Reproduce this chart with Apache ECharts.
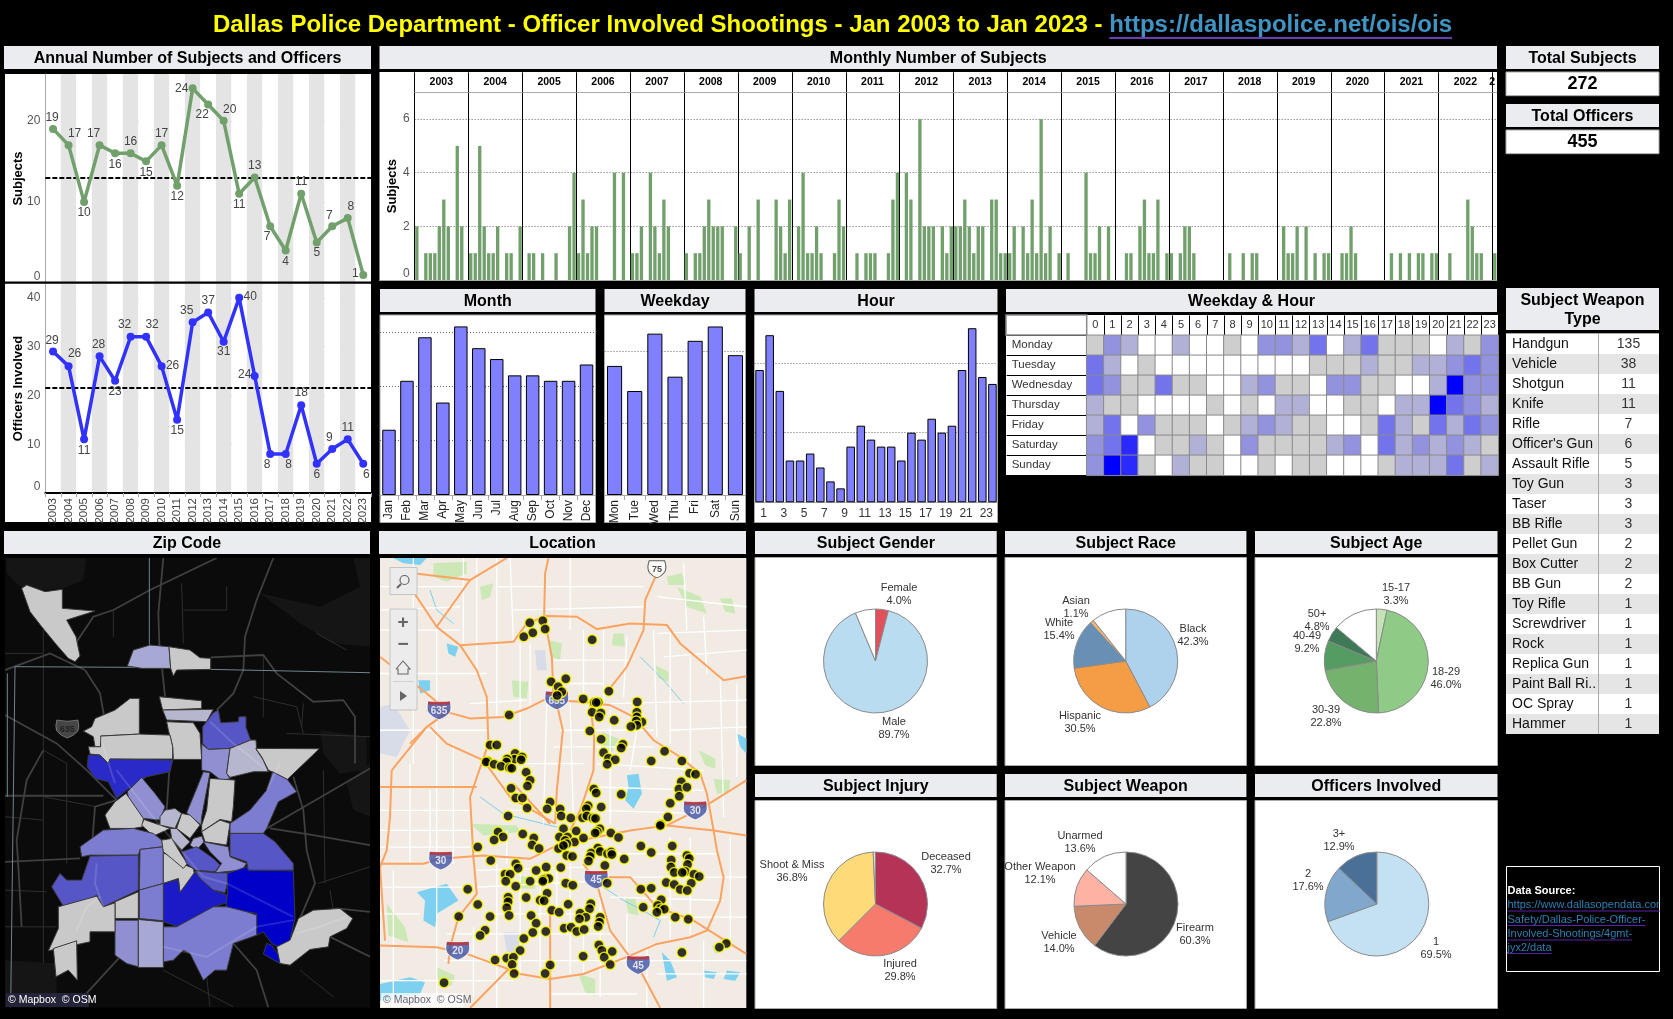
<!DOCTYPE html>
<html>
<head>
<meta charset="utf-8">
<title>Dallas Police Department - Officer Involved Shootings</title>
<script src="https://cdn.jsdelivr.net/npm/echarts@6/dist/echarts.min.js"></script>
<style>
  html, body { margin: 0; padding: 0; background: #000; }
  #main { width: 1673px; height: 1019px; }
</style>
</head>
<body>
<div id="main"></div>
<script>
// ---------- data ----------
const years = ['2003','2004','2005','2006','2007','2008','2009','2010','2011','2012','2013','2014','2015','2016','2017','2018','2019','2020','2021','2022','2023'];
const annualSubjects = [19,17,10,17,16,16,15,17,12,24,22,20,11,13,7,4,11,5,7,8,1];
const annualOfficers = [29,26,11,28,23,32,32,26,15,35,37,31,40,24,8,8,18,6,9,11,6];
const subjectAverage = 12.95;
const officerAverage = 21.67;

const monthlySubjects = [
  2,0,1,1,1,2,3,2,0,5,2,0,
  1,1,5,2,1,1,2,0,1,1,0,2,
  0,1,1,0,1,0,0,1,0,0,2,4,
  1,3,1,2,2,0,0,0,4,0,4,0,
  1,1,2,0,4,2,1,3,2,0,0,0,
  1,0,1,1,2,3,2,2,2,0,0,2,
  1,0,2,0,3,0,0,0,3,2,1,3,
  0,2,4,1,1,2,1,0,0,1,3,2,
  0,0,1,0,1,1,1,0,0,1,3,4,
  0,4,3,0,6,2,2,2,0,2,1,2,
  2,2,3,2,1,2,2,0,3,3,1,1,
  1,2,0,2,1,3,1,6,1,2,0,1,
  0,1,0,0,0,4,1,1,2,0,2,0,
  0,0,1,1,0,2,3,1,1,3,0,1,
  1,0,1,2,2,1,0,0,0,0,0,0,
  0,1,0,0,1,0,1,1,0,0,0,0,
  0,2,1,1,2,0,2,0,1,0,1,1,
  0,0,1,1,2,1,0,0,0,0,0,0,
  0,1,0,1,0,1,0,1,1,0,1,1,
  0,0,1,0,0,0,3,2,1,1,0,0,
  1
];

const monthNames = ['Jan','Feb','Mar','Apr','May','Jun','Jul','Aug','Sep','Oct','Nov','Dec'];
const monthCounts = [12,21,29,17,31,27,25,22,22,21,21,24];
const weekdayShort = ['Mon','Tue','Wed','Thu','Fri','Sat','Sun'];
const weekdayCounts = [36,29,45,33,43,47,39];
const hourNames = ['1','2','3','4','5','6','7','8','9','10','11','12','13','14','15','16','17','18','19','20','21','22','23','24'];
const hourCounts = [19,24,16,6,6,7,5,3,2,8,11,9,8,8,6,10,9,12,10,11,19,25,18,17];

const weekdayLong = ['Monday','Tuesday','Wednesday','Thursday','Friday','Saturday','Sunday'];
const heatHours = ['0','1','2','3','4','5','6','7','8','9','10','11','12','13','14','15','16','17','18','19','20','21','22','23'];
const heatMonday    = [1,3,2,0,0,2,0,0,1,0,3,3,2,4,0,2,4,1,1,1,0,2,1,3];
const heatTuesday   = [4,2,0,1,0,0,0,0,0,0,0,0,0,1,1,1,2,1,1,2,2,3,4,3];
const heatWednesday = [4,3,1,1,4,1,1,0,0,2,3,1,1,0,3,3,1,1,0,0,2,7,3,3];
const heatThursday  = [2,1,1,0,0,0,0,1,0,1,0,2,2,0,0,1,1,0,2,2,7,4,3,2];
const heatFriday    = [2,4,0,3,1,1,1,0,1,2,3,2,1,1,0,0,1,4,2,1,4,2,4,3];
const heatSaturday  = [3,4,6,0,1,1,2,1,0,3,1,1,1,1,2,3,0,4,2,3,2,3,2,1];
const heatSunday    = [3,7,6,1,0,2,1,1,0,0,1,0,1,1,0,0,0,1,2,2,2,4,1,2];

const genderNames = ['Female','Male',''];
const genderValues = [4.0,89.7,6.3];
const raceNames = ['Black','Hispanic','White','Asian',''];
const raceValues = [42.3,30.5,15.4,1.1,10.7];
const ageNames = ['15-17','18-29','30-39','40-49','50+',''];
const ageValues = [3.3,46.0,22.8,9.2,4.8,13.9];
const injuryNames = ['Deceased','Injured','Shoot & Miss',''];
const injuryValues = [32.7,29.8,36.8,0.7];
const weaponNames = ['Firearm','Vehicle','Other Weapon','Unarmed'];
const weaponValues = [60.3,14.0,12.1,13.6];
const officerNames = ['1','2','3+'];
const officerValues = [69.5,17.6,12.9];

const weaponTypes = ['Handgun','Vehicle','Shotgun','Knife','Rifle',"Officer's Gun",'Assault Rifle','Toy Gun','Taser','BB Rifle','Pellet Gun','Box Cutter','BB Gun','Toy Rifle','Screwdriver','Rock','Replica Gun','Paint Ball Ri..','OC Spray','Hammer'];
const weaponCounts = [135,38,11,11,7,6,5,3,3,3,2,2,2,1,1,1,1,1,1,1];

// incident locations, in map units of the Location panel
const incidentPoints = [
  [479,278],[518,272],[525,297],[488,308],[461,320],[666,329],[543,455],[587,446],[564,470],[575,485],[561,496],[716,483],[639,506],[672,517],[684,516],[678,517],[666,546],[692,548],[687,560],[732,570],[801,515],[800,546],[800,560],[815,575],[798,572],[800,585],[782,589],[659,602],[693,627],[417,554],
  [360,644],[380,644],[758,642],[753,653],[700,667],[883,663],[843,692],[935,692],[435,670],[433,687],[456,680],[453,688],[411,686],[409,695],[353,693],[348,695],[372,702],[393,708],[418,712],[425,714],[715,684],[735,688],[711,702],[468,726],[958,729],[976,732],[480,750],[472,767],[933,754],[926,776],[950,771],[423,774],[671,776],[678,788],[753,792],[927,798],[437,803],[457,803],[900,819],[540,815],[531,836],[471,833],[654,826],[693,830],[648,835],[570,836],[573,857],[414,857],[602,863],[637,862],[650,857],[668,863],[676,864],[893,860],[872,882],[870,885],
  [580,895],[689,895],[681,903],[675,908],[618,902],[722,908],[745,921],[384,905],[399,920],[372,929],[458,911],[491,923],[486,944],[507,954],[323,950],[568,920],[592,920],[585,930],[613,935],[640,923],[575,950],[590,940],[565,954],[580,945],[812,947],[906,947],[843,966],[683,953],[663,968],[690,963],[712,970],[723,965],[725,972],[660,978],[655,992],[590,975],[607,978],[762,986],[950,975],[957,984],[903,989],[362,990],[437,1000],[444,1013],[952,1002],[528,1010],[572,1011],[704,1005],[902,1010],[498,1020],[405,1031],[420,1031],[945,1023],[912,1026],[936,1026],[971,1031],[987,1038],
  [527,1044],[536,1044],[519,1048],[407,1052],[480,1052],[518,1052],[437,1067],[587,1058],[608,1064],[711,1058],[888,1056],[912,1062],[963,1058],[293,1076],[812,1076],[843,1073],[930,1077],[951,1080],[531,1088],[468,1101],[414,1100],[414,1114],[510,1109],[522,1111],[323,1122],[594,1121],[873,1108],[662,1120],[658,1135],[410,1132],[819,1130],[862,1125],[870,1135],[882,1136],[860,1145],[545,1139],[567,1145],[630,1148],[360,1158],[483,1155],[417,1155],[266,1158],[647,1160],[628,1165],[915,1160],[954,1166],[690,1160],[498,1178],[688,1175],[684,1188],[345,1199],[330,1215],[582,1193],[603,1190],[620,1203],[642,1197],[527,1203],[488,1206],[461,1224],[686,1243],[695,1260],[1068,1239],[1047,1250],[726,1263],[935,1266],[450,1260],[639,1277],[702,1280],[410,1283],[430,1280],[375,1288],[426,1302],[540,1303],[720,1302],[525,1329],[432,1329],[222,1356]
];

// zip code areas: outlines in map units and a shooting level for each one
const zipOutlines = [
  [[65,175],[80,165],[135,185],[187,178],[187,235],[285,243],[200,270],[228,320],[240,378],[225,395],[205,385],[170,345],[125,290],[90,245]],
  [[382,408],[400,360],[450,345],[507,350],[512,415],[425,415]],
  [[507,350],[570,360],[600,383],[632,385],[632,418],[530,420],[520,438],[512,415]],
  [[478,500],[605,512],[605,535],[488,540]],
  [[488,540],[640,538],[620,575],[500,570]],
  [[500,575],[580,578],[600,610],[605,688],[520,688],[518,650],[505,600]],
  [[640,548],[655,540],[662,578],[715,575],[717,560],[738,560],[738,592],[752,630],[690,655],[625,658],[608,640],[608,590]],
  [[605,642],[625,658],[690,655],[680,730],[690,745],[665,752],[630,725],[605,720]],
  [[690,655],[752,630],[768,630],[770,660],[790,690],[805,725],[760,725],[690,742],[680,730]],
  [[767,655],[958,656],[862,748],[805,720],[785,680]],
  [[818,725],[862,748],[890,785],[835,815],[800,895],[790,910],[690,910],[690,880],[750,840],[800,780]],
  [[250,603],[275,590],[285,565],[345,540],[390,505],[418,505],[418,612],[302,618],[302,650],[285,650],[280,620]],
  [[302,618],[418,612],[510,615],[518,650],[518,687],[330,687],[325,700],[300,675],[270,672],[265,650],[302,650]],
  [[265,675],[298,675],[325,700],[330,687],[518,690],[510,725],[440,740],[380,780],[350,805],[325,755],[285,745],[262,710]],
  [[425,742],[465,790],[495,830],[480,870],[430,865],[390,830],[382,785]],
  [[378,790],[430,865],[428,890],[400,895],[330,895],[315,855],[345,815]],
  [[630,728],[605,860],[603,885],[560,848],[590,775],[610,725]],
  [[630,745],[705,750],[700,830],[695,875],[660,868],[605,905],[605,885],[620,840]],
  [[495,840],[525,835],[545,850],[525,895],[480,885],[480,860]],
  [[545,850],[570,855],[600,885],[570,925],[530,895]],
  [[425,885],[432,868],[480,885],[510,895],[460,918],[430,890]],
  [[660,870],[690,880],[680,945],[615,935],[605,905]],
  [[510,895],[530,895],[570,935],[545,960],[515,925]],
  [[580,925],[605,918],[612,935],[590,960],[570,945]],
  [[310,900],[400,895],[460,910],[485,930],[490,950],[420,958],[415,975],[270,975],[245,980],[240,950]],
  [[270,978],[415,975],[415,1080],[310,1130],[290,1095],[245,1125],[190,1128],[155,1070],[180,1030],[200,1050],[245,1050]],
  [[420,958],[490,950],[490,1060],[418,1080]],
  [[490,968],[515,980],[545,1000],[580,1015],[585,1040],[540,1087],[535,1045],[490,1060]],
  [[485,930],[515,925],[545,975],[562,1000],[550,1015],[515,985],[490,965]],
  [[545,965],[590,950],[640,985],[660,1005],[645,1025],[585,1020],[560,1000]],
  [[610,935],[685,950],[690,980],[740,1000],[725,1020],[645,1028],[665,1000],[630,965]],
  [[490,1060],[535,1048],[540,1087],[585,1025],[600,1045],[640,1080],[682,1095],[680,1118],[640,1130],[630,1150],[530,1188],[490,1175]],
  [[585,1022],[645,1028],[690,1028],[675,1088],[640,1080],[600,1045]],
  [[682,1030],[740,1010],[745,1020],[880,1022],[885,1165],[870,1230],[835,1250],[815,1240],[790,1205],[770,1215],[770,1150],[740,1145],[678,1130],[682,1095]],
  [[690,910],[790,910],[825,935],[880,1000],[880,1020],[745,1020],[740,995],[690,978]],
  [[800,1240],[815,1245],[843,1285],[840,1300],[790,1272]],
  [[895,1165],[940,1140],[1020,1135],[1058,1165],[1040,1195],[990,1220],[985,1250],[930,1258],[870,1305],[840,1300],[830,1250],[870,1230]],
  [[490,1190],[530,1190],[640,1130],[680,1130],[740,1145],[770,1155],[770,1215],[700,1240],[680,1320],[645,1320],[610,1350],[570,1270],[550,1260],[520,1290],[490,1295]],
  [[345,1170],[415,1170],[415,1310],[380,1300],[345,1275]],
  [[415,1168],[490,1175],[490,1312],[415,1312]],
  [[418,1080],[490,1060],[490,1172],[418,1165]],
  [[345,1115],[415,1085],[415,1165],[345,1165]],
  [[175,1130],[290,1098],[310,1130],[345,1118],[345,1205],[270,1205],[270,1235],[145,1262],[175,1195]],
  [[160,1255],[230,1232],[232,1350],[205,1320],[168,1340]]
];
const zipLevels = [1,3,1,1,2,1,6,4,2,1,5,1,1,7,4,1,4,1,2,1,1,1,2,3,5,6,5,1,1,6,4,8,6,9,6,9,1,5,4,3,5,1,1,1];

// dark base map behind the zip areas
const zipTerrain = [
  [[20,84],[260,84],[250,150],[190,175],[130,180],[60,170],[20,130]],
  [[780,190],[900,280],[1000,340],[1110,350],[1110,84],[1060,84],[1080,170],[960,230]],
  [[960,600],[1100,620],[1100,720],[1020,730],[970,670]],
  [[15,1290],[170,1300],[170,1400],[15,1432]],
  [[1040,760],[1110,700],[1110,860],[1060,840]]
];
const zipRoads = [
  [[490,84],[475,250],[478,340],[490,450],[495,500]],
  [[650,84],[450,180],[340,240],[280,260],[220,350]],
  [[820,84],[770,210],[735,320],[730,420],[700,490],[650,540]],
  [[15,555],[170,640],[260,720],[350,810]],
  [[255,420],[300,490],[320,600]],
  [[15,797],[310,797]],
  [[15,995],[240,985]],
  [[800,895],[1110,715]],
  [[810,895],[940,915],[1110,945]],
  [[880,740],[910,840],[920,960],[945,1060],[900,1165]],
  [[900,1165],[1010,1135],[1110,1145]],
  [[980,1215],[1110,1280]],
  [[632,382],[790,375],[830,430],[940,515],[1030,510],[1065,560],[1065,700]],
  [[15,420],[150,370],[255,420]],
  [[700,1240],[770,1320],[805,1432]],
  [[360,1280],[250,1400]],
  [[65,1190],[55,1010],[50,930],[80,750],[130,660]],
  [[510,690],[500,840]],
  [[350,810],[285,830],[275,960]]
];
const zipThinRoads = [
  [[200,1000],[200,700]],[[130,300],[130,1300]],[[790,380],[790,560]],[[860,610],[1110,620]],[[970,720],[975,1060]],
  [[910,520],[905,590]],[[15,860],[130,870]],[[550,240],[680,240]],[[545,160],[550,340]],[[680,170],[680,240]],
  [[490,1320],[700,1430]],[[900,1320],[1000,1400]],[[950,310],[1040,360]],[[15,1080],[140,1085]],
  [[15,370],[130,370]],[[340,240],[340,320]],[[760,500],[890,530]],[[890,530],[910,610]],[[130,800],[290,830]],
  [[200,700],[130,660]],[[15,1190],[170,1190]],[[955,1060],[1110,1010]],[[1000,1140],[990,1080]],[[620,1340],[630,1430]]
];
const zipOverlayRoads = [
  [[300,620],[345,760]],
  [[290,1000],[285,1060],[310,1130]],
  [[230,1200],[260,1130],[300,1100]],
  [[490,1250],[620,1280],[770,1190],[880,1170]],
  [[630,575],[700,640],[800,720]],
  [[350,720],[450,850],[560,980],[610,1040],[680,1060],[880,1160]],
  [[840,700],[800,780]],
  [[890,1210],[960,1190],[1040,1160]]
];
const zipCityLines = [
  [[448,84],[448,345]],
  [[45,410],[420,412]],
  [[630,418],[1110,428]],
  [[45,410],[32,1432]],
  [[22,430],[22,800]]
];

// light base map behind the location points
const locWater = [
  [[770,735],[805,730],[815,790],[790,835],[765,810],[775,770]],
  [[140,1085],[230,1060],[265,1110],[200,1150],[195,1190],[160,1170],[165,1110]],
  [[30,1360],[120,1340],[165,1355],[150,1390],[30,1410]],
  [[70,84],[170,84],[150,105],[100,100]],
  [[145,450],[180,450],[180,480],[150,490]],
  [[1100,610],[1128,625],[1128,670],[1110,650]],
  [[230,340],[265,350],[255,380],[235,370]],
  [[875,1265],[900,1290],[920,1340],[890,1350]],
  [[1000,1320],[1040,1325],[1030,1345],[1005,1340]],
  [[1070,1320],[1110,1325],[1095,1350],[1060,1345]]
];
const locParks = [
  [[190,100],[290,95],[290,130],[230,155],[190,140]],
  [[330,170],[370,160],[360,200],[335,210]],
  [[535,330],[575,340],[570,390],[540,380]],
  [[920,170],[990,200],[1010,250],[950,230]],
  [[730,310],[760,310],[765,350],[725,345]],
  [[425,450],[475,455],[470,505],[430,500]],
  [[300,880],[440,885],[450,905],[340,915]],
  [[1030,745],[1080,750],[1075,785],[1040,790]],
  [[985,660],[1035,685],[1035,715],[1005,705]],
  [[890,140],[935,130],[945,165],[895,165]],
  [[1050,205],[1085,205],[1095,250],[1065,245]],
  [[695,605],[745,625],[725,665],[700,650]],
  [[855,405],[895,425],[895,455],[865,445]],
  [[50,1120],[105,1190],[115,1235],[55,1215]],
  [[200,1310],[255,1335],[245,1365],[205,1365]],
  [[625,1330],[675,1345],[675,1395],[645,1385]],
  [[1025,1245],[1055,1245],[1055,1265],[1035,1268]],
  [[445,1035],[495,1045],[495,1075],[455,1075]],
  [[765,1105],[795,1105],[805,1155],[775,1148]]
];
const locAirports = [
  [[30,530],[70,520],[120,600],[80,680],[30,670]],
  [[495,360],[525,360],[530,420],[500,420]],
  [[400,1205],[450,1205],[450,1265],[410,1265]]
];
const locStreets = [
  [[130,84],[130,700]],[[200,300],[200,1400]],[[280,84],[280,340]],[[380,84],[380,560]],[[450,340],[450,660]],[[600,84],[600,300]],[[640,300],[640,520]],[[700,300],[700,520]],[[770,320],[760,500]],[[850,300],[860,620]],[[900,300],[900,640]],[[960,380],[960,700]],[[1050,440],[1060,860]],
  [[120,700],[120,1000]],[[180,780],[180,1000]],[[380,1000],[380,1432]],[[450,1000],[450,1330]],[[510,1020],[510,1340]],[[600,1000],[600,1330]],[[640,1150],[640,1330]],[[770,1150],[770,1290]],[[900,920],[900,1230]],[[960,920],[960,1210]],[[1080,920],[1080,1240]],
  [[30,170],[280,170]],[[380,170],[820,170]],[[860,200],[1128,230]],[[30,300],[270,300]],[[550,390],[780,390]],[[880,380],[1128,360]],[[30,430],[350,430]],[[570,460],[700,460]],[[30,600],[360,600]],[[570,600],[850,600]],[[900,600],[1128,590]],
  [[350,700],[640,700]],[[680,700],[1000,720]],[[30,840],[300,840]],[[420,840],[560,840]],[[680,840],[1000,850]],[[30,1070],[310,1070]],[[320,1070],[700,1050]],[[780,1040],[1128,1040]],[[30,1150],[150,1150]],[[360,1150],[710,1150]],[[850,1160],[1128,1160]],[[30,1350],[430,1350]],[[540,1390],[800,1390]],[[860,1330],[1128,1330]],
  [[320,84],[320,420]],[[420,84],[430,330]],[[480,340],[480,530]],[[530,520],[520,880]],[[600,520],[610,880]],[[720,540],[720,880]],[[800,600],[780,720]],[[940,100],[950,300]],[[1000,260],[1010,430]],[[1100,460],[1100,740]],
  [[250,640],[250,1000]],[[410,900],[410,1000]],[[560,1000],[560,1140]],[[690,1100],[690,1400]],[[830,1250],[830,1430]],[[1000,1230],[1000,1430]],[[70,1020],[70,1430]],[[310,1190],[310,1400]],
  [[30,240],[270,230]],[[430,240],[820,230]],[[860,310],[1128,300]],[[550,650],[850,650]],[[300,520],[470,510]],[[720,520],[1128,510]],[[30,900],[300,900]],[[680,770],[1000,780]],[[30,950],[300,950]],[[720,970],[1040,970]],[[320,1020],[640,1010]],[[720,1100],[1060,1110]],[[230,1210],[720,1210]],[[220,1290],[1128,1290]]
];
const locHighways = [
  [[90,125],[200,290],[270,345],[320,420],[350,500],[355,640],[300,800],[310,980],[320,1090],[265,1160],[240,1250],[235,1300]],
  [[170,540],[240,548],[300,565],[400,560],[470,535],[530,505],[560,510],[640,515],[720,525],[790,560],[850,630],[930,680],[990,730],[1010,790],[1030,900],[1040,960],[1060,1040],[1050,1110],[1010,1200],[960,1220],[860,1240],[780,1275],[640,1330],[540,1345],[450,1330],[400,1310],[290,1270],[200,1250],[30,1245]],
  [[270,345],[430,335],[470,280],[530,258],[620,260],[680,297],[780,280],[890,285],[930,340],[1060,450],[1128,438]],
  [[860,130],[825,210],[820,300],[770,410],[715,480]],
  [[535,84],[525,130],[522,258],[545,380],[550,490]],
  [[200,290],[300,150],[410,84]],
  [[560,520],[578,600],[560,780],[555,880]],
  [[660,520],[672,620],[670,720],[630,840],[600,900]],
  [[30,1000],[160,1000],[210,985],[340,975],[480,985],[560,945],[680,920],[780,900],[890,885],[1000,830],[1128,750]],
  [[890,885],[1030,900],[1128,915]],
  [[640,1000],[680,1060],[720,1200],[780,1280],[800,1300],[870,1432]],
  [[540,1145],[540,1432]],
  [[30,770],[320,770]],
  [[120,640],[170,590],[240,540]],
  [[180,590],[230,640],[340,690],[420,800],[555,880]],
  [[65,720],[60,860],[50,960],[30,1010],[45,1230]],
  [[240,540],[170,590],[65,720]],
  [[970,1170],[1128,1270]],
  [[300,1432],[430,1300]],
  [[700,1040],[780,1040],[860,1130],[970,1170]],
  [[30,380],[170,490],[230,540]],
  [[300,150],[130,130]],
  [[430,760],[540,880]]
];
const locRivers = [
  [[810,380],[880,450],[940,520]],
  [[700,1070],[760,1110],[800,1130],[870,1170],[850,1220]],
  [[180,180],[200,240],[250,280]],
  [[330,800],[400,850],[560,890]]
];
const interstates = [[207,540,'635'],[560,510,'635'],[975,840,'30'],[212,990,'30'],[263,1260,'20'],[678,1047,'45'],[804,1303,'45']];
const zipShield = [[202,597,'635']];

// placement of text that follows the marks, in pixels
const subjectLabelOffsets = [[-1,-11],[6,-11],[0,11],[-6,-11],[0,11],[0,-12],[0,11],[0,-11],[0,11],[-11,0],[-6,10],[6,-11],[0,11],[0,-12],[-3,10],[0,11],[0,-12],[0,10],[-3,-11],[3,-11],[-8,-1]];
const officerLabelOffsets = [[-1,-11],[6,-12],[0,11],[-1,-12],[0,11],[-6,-12],[6,-12],[11,0],[0,11],[-6,-12],[0,-12],[0,10],[11,-1],[-10,-1],[-3,11],[3,11],[0,-12],[0,11],[-3,-11],[0,-12],[3,11]];
const genderLabels = [[899,594],[894,728],null];
const raceLabels = [[1193,635],[1080,722],[1059,629],[1076,607],null];
const ageLabels = [[1396,594],[1446,678],[1326,716],[1307,642],[1317,620],null];
const injuryLabels = [[946,863],[900,970],[792,871],null];
const weaponLabels = [[1195,934],[1059,942],[1040,873],[1080,842]];
const officerLabels = [[1436,948],[1308,880],[1339,840]];

// ---------- helpers ----------
const FONT = '"Liberation Sans", Arial, sans-serif';
const GREEN = '#72a06c';
const BLUE = '#3232ff';
const BAR_BLUE = '#8080ff';
const DOTTED = { color: '#666', type: [1, 2] };
const HEAT_COLORS = ['#ffffff','#cecece','#b1b1d8','#9292de','#7373ec','#5050f4','#2a2aff','#0000ff'];
const ZIP_COLORS = ['#000','#c9c9c9','#b6b6cf','#a8a8d4','#8f8fd2','#7c7cd0','#5656c6','#2a2ac8','#1a1ac6','#0000c8'];

const measure = document.createElement('canvas').getContext('2d');
function textWidth(text, font) {
  measure.font = font;
  return measure.measureText(text).width;
}

function panel(x, y, w, h, stroke) {
  return { type: 'rect', z: -5, shape: { x, y, width: w, height: h },
    style: { fill: '#fff', stroke: stroke || null, lineWidth: 1 } };
}
function titleBar(text, x, y, w, h) {
  return [
    { type: 'rect', z: -5, shape: { x, y, width: w, height: h }, style: { fill: '#ebecf0' } },
    { type: 'text', z: 50, x: x + w / 2, y: y + h / 2 + 1,
      style: { text, fill: '#000', font: 'bold 16px ' + FONT, align: 'center', verticalAlign: 'middle', lineHeight: 19 } }
  ];
}
function plainText(text, x, y, fill, font, align) {
  return { type: 'text', z: 60, x, y, style: { text, fill, font: font + ' ' + FONT, align: align || 'left', verticalAlign: 'middle' } };
}
function underlined(text, x, y, fill, lineFill, font) {
  const w = textWidth(text, font + ' ' + FONT);
  const size = parseFloat(font.replace('bold ', ''));
  return [
    plainText(text, x, y, fill, font),
    { type: 'rect', z: 60, shape: { x, y: y + size * 0.5, width: w, height: size > 16 ? 2 : 1 }, style: { fill: lineFill } }
  ];
}

// hidden axes so the map shapes and points go through a real scale
function mapAxes(gridIndex, xRange, yRange) {
  return {
    x: { type: 'value', gridIndex, show: false, min: xRange[0], max: xRange[1] },
    y: { type: 'value', gridIndex, show: false, min: yRange[0], max: yRange[1], inverse: true }
  };
}
function shapeSeries(kind, axis, shapes, styleOf, z) {
  return {
    type: 'custom', silent: true, clip: true, z: z || 2,
    xAxisIndex: axis, yAxisIndex: axis,
    encode: { x: 0, y: 1 },
    data: shapes.map(s => s[0]),
    renderItem: (params, api) => ({
      type: kind,
      shape: { points: shapes[params.dataIndex].map(p => api.coord(p)) },
      style: styleOf(params.dataIndex)
    })
  };
}
function pieSeries(names, values, colors, center, placement) {
  return {
    type: 'pie', silent: true, center, radius: 52, startAngle: 90, avoidLabelOverlap: false,
    itemStyle: { borderColor: '#8a8a8a', borderWidth: 1 },
    label: {
      show: true, position: 'outside', color: '#333', fontFamily: FONT, fontSize: 11, lineHeight: 13,
      formatter: p => p.name === '' ? '' : p.name + '\n' + p.value.toFixed(1) + '%'
    },
    labelLine: { show: false },
    labelLayout: p => {
      const at = placement[p.dataIndex];
      return at ? { x: at[0], y: at[1], align: 'center', verticalAlign: 'middle', hideOverlap: false } : {};
    },
    data: names.map((name, i) => ({ name, value: values[i], itemStyle: { color: colors[i] } }))
  };
}
function annualSeries(values, offsets, color, average, axis) {
  return {
    type: 'line', xAxisIndex: axis, yAxisIndex: axis, silent: true, z: 5,
    symbol: 'circle', symbolSize: 8,
    lineStyle: { color, width: 3.5 }, itemStyle: { color },
    label: { show: true, position: 'inside', color: '#444', fontFamily: FONT, fontSize: 12 },
    data: values.map((value, i) => ({ value, label: { offset: offsets[i] } })),
    markLine: {
      silent: true, symbol: 'none', label: { show: false }, z: 4,
      lineStyle: { color: '#000', type: [5, 2], width: 2 },
      data: [{ yAxis: average }]
    }
  };
}
function barAxisX(gridIndex, names) {
  return {
    type: 'category', gridIndex, data: names,
    axisLine: { show: true, lineStyle: { color: '#aaa' } },
    axisTick: { show: true, lineStyle: { color: '#aaa' }, length: 5 },
    axisLabel: { interval: 0, rotate: 90, color: '#222', fontFamily: FONT, fontSize: 12, margin: 5 }
  };
}
function barAxisY(gridIndex, max, interval) {
  return {
    type: 'value', gridIndex, min: 0, max, interval,
    axisLine: { show: false }, axisTick: { show: false }, axisLabel: { show: false },
    splitLine: { show: true, showMinLine: false, showMaxLine: false, lineStyle: DOTTED }
  };
}
function barSeries(values, axis, width) {
  return {
    type: 'bar', xAxisIndex: axis, yAxisIndex: axis, data: values, barWidth: width, silent: true,
    itemStyle: { color: BAR_BLUE, borderColor: '#000', borderWidth: 1 }
  };
}

// ---------- grids (pixel layout of the dashboard) ----------
const grids = [
  { left: 45.3, top: 74, width: 325.7, height: 209 },
  { left: 45.3, top: 284, width: 325.7, height: 209 },
  { left: 414.6, top: 92.3, width: 1082.4, height: 187.7 },
  { left: 380, top: 315, width: 215.5, height: 180 },
  { left: 604.5, top: 315, width: 141, height: 180 },
  { left: 754.5, top: 315, width: 243, height: 187.3 },
  { left: 1086.7, top: 335.3, width: 411.6, height: 140 },
  { left: 5, top: 558, width: 365, height: 449.5 },
  { left: 380, top: 558, width: 366.3, height: 450 }
];

const zipAxes = mapAxes(7, [15, 1110], [84, 1432]);
const locAxes = mapAxes(8, [30, 1128], [84, 1432]);

const months = [];
monthlySubjects.forEach((v, i) => months.push(years[Math.floor(i / 12)] + '-' + monthNames[i % 12]));

const yearBands = { show: true, interval: 0, areaStyle: { color: ['#ffffff', '#e4e4e4'] } };
const xAxes = [
  { type: 'category', gridIndex: 0, data: years,
    axisLine: { show: false }, axisTick: { show: false }, axisLabel: { show: false, interval: 0 },
    splitArea: yearBands },
  { type: 'category', gridIndex: 1, data: years,
    axisLine: { show: true, lineStyle: { color: '#000', width: 2 } },
    axisTick: { show: true, interval: 0, lineStyle: { color: '#aaa' }, length: 4 },
    axisLabel: { interval: 0, rotate: 90, color: '#444', fontFamily: FONT, fontSize: 11.5, margin: 5 },
    splitArea: yearBands },
  { type: 'category', gridIndex: 2, data: months, position: 'top',
    axisLine: { show: true, onZero: false, lineStyle: { color: '#aaa' } },
    axisTick: { show: true, length: 20, interval: i => i % 12 === 0, lineStyle: { color: '#000' } },
    splitLine: { show: true, interval: i => i % 12 === 0, lineStyle: { color: '#000', width: 1 } },
    axisLabel: {
      interval: i => i % 12 === 6 || i === 240,
      formatter: (v, i) => i === 240 ? '2' : v.slice(0, 4),
      color: '#000', fontFamily: FONT, fontWeight: 'bold', fontSize: 10.5, margin: 5, padding: [0, 5, 0, 0]
    } },
  barAxisX(3, monthNames),
  barAxisX(4, weekdayShort),
  { type: 'category', gridIndex: 5, data: hourNames,
    axisLine: { show: true, lineStyle: { color: '#aaa' } }, axisTick: { show: false },
    axisLabel: { interval: 1, color: '#333', fontFamily: FONT, fontSize: 12, margin: 5, padding: [0, 0, 0, 8] } },
  { type: 'category', gridIndex: 6, data: heatHours, position: 'top',
    axisLine: { show: false },
    axisTick: { show: true, interval: 0, length: 20, lineStyle: { color: '#000' } },
    axisLabel: { interval: 0, color: '#333', fontFamily: FONT, fontSize: 11, margin: 5 } },
  zipAxes.x, locAxes.x
];

const yAxes = [
  { type: 'value', gridIndex: 0, min: 0, max: 25.77, interval: 10,
    name: 'Subjects', nameLocation: 'middle', nameGap: 20, nameMoveOverlap: false,
    nameTextStyle: { color: '#000', fontFamily: FONT, fontWeight: 'bold', fontSize: 13 },
    axisLine: { show: true, lineStyle: { color: '#aaa' } }, axisTick: { show: false },
    axisLabel: { color: '#555', fontFamily: FONT, fontSize: 12, margin: 5, showMaxLabel: false, verticalAlignMinLabel: 'bottom' },
    splitLine: { show: true, showMinLine: false, showMaxLine: false, lineStyle: DOTTED } },
  { type: 'value', gridIndex: 1, min: 0, max: 42.83, interval: 10,
    name: 'Officers Involved', nameLocation: 'middle', nameGap: 20, nameMoveOverlap: false,
    nameTextStyle: { color: '#000', fontFamily: FONT, fontWeight: 'bold', fontSize: 13 },
    axisLine: { show: true, lineStyle: { color: '#aaa' } }, axisTick: { show: false },
    axisLabel: { color: '#555', fontFamily: FONT, fontSize: 12, margin: 5, showMaxLabel: false, verticalAlignMinLabel: 'bottom' },
    splitLine: { show: true, showMinLine: false, showMaxLine: false, lineStyle: DOTTED } },
  { type: 'value', gridIndex: 2, min: 0, max: 7, interval: 2,
    name: 'Subjects', nameLocation: 'middle', nameGap: 16, nameMoveOverlap: false,
    nameTextStyle: { color: '#000', fontFamily: FONT, fontWeight: 'bold', fontSize: 13 },
    axisLine: { show: false }, axisTick: { show: false },
    axisLabel: { color: '#555', fontFamily: FONT, fontSize: 12, margin: 5, showMaxLabel: false, verticalAlignMinLabel: 'bottom' },
    splitLine: { show: true, showMinLine: false, showMaxLine: false, lineStyle: DOTTED } },
  barAxisY(3, 33.1, 10),
  barAxisY(4, 50.2, 20),
  barAxisY(5, 26.9, 10),
  { type: 'category', gridIndex: 6, data: weekdayLong, inverse: true,
    axisLine: { show: false },
    axisTick: { show: true, interval: 0, length: 80, lineStyle: { color: '#000' } },
    axisLabel: { interval: 0, align: 'left', color: '#333', fontFamily: FONT, fontSize: 11.5, margin: 75 } },
  zipAxes.y, locAxes.y
];

// ---------- series ----------
const heatRows = [heatMonday, heatTuesday, heatWednesday, heatThursday, heatFriday, heatSaturday, heatSunday];
const heatData = [];
heatRows.forEach((row, r) => row.forEach((v, h) => heatData.push([h, r, v])));

const series = [
  annualSeries(annualSubjects, subjectLabelOffsets, GREEN, subjectAverage, 0),
  annualSeries(annualOfficers, officerLabelOffsets, BLUE, officerAverage, 1),
  { type: 'bar', xAxisIndex: 2, yAxisIndex: 2, data: monthlySubjects, barWidth: '74%', silent: true, itemStyle: { color: GREEN } },
  barSeries(monthCounts, 3, '75%'),
  barSeries(weekdayCounts, 4, '75%'),
  barSeries(hourCounts, 5, '84%'),
  { type: 'heatmap', xAxisIndex: 6, yAxisIndex: 6, data: heatData, silent: true,
    itemStyle: { borderColor: '#8a8a8a', borderWidth: 1 } },

  // zip code map
  shapeSeries('polygon', 7, zipTerrain, () => ({ fill: '#151515' }), 1),
  shapeSeries('polyline', 7, zipThinRoads, () => ({ fill: null, stroke: '#2e2e2e', lineWidth: 1 }), 1),
  shapeSeries('polyline', 7, zipRoads, () => ({ fill: null, stroke: '#404040', lineWidth: 1.8 }), 1),
  shapeSeries('polyline', 7, zipCityLines, () => ({ fill: null, stroke: '#71858c', lineWidth: 1 }), 1),
  shapeSeries('polygon', 7, zipOutlines, i => ({ fill: ZIP_COLORS[zipLevels[i]], stroke: '#3a3a3a', lineWidth: 1 }), 2),
  shapeSeries('polyline', 7, zipOverlayRoads, () => ({ fill: null, stroke: 'rgba(255,255,255,0.14)', lineWidth: 2 }), 3),
  { type: 'scatter', xAxisIndex: 7, yAxisIndex: 7, silent: true, z: 3,
    symbol: 'path://M0,2 Q6,4 12,2 Q13,8 12,11 Q10,15 6,17 Q2,15 0,11 Q-1,8 0,2 Z',
    symbolSize: [23, 18],
    itemStyle: { color: '#555', borderColor: '#999', borderWidth: 0.8 },
    label: { show: true, position: 'inside', color: '#1a1a1a', fontFamily: FONT, fontSize: 9, fontWeight: 'bold', formatter: p => p.value[2] },
    data: zipShield },

  // location map
  shapeSeries('polygon', 8, locAirports, () => ({ fill: '#d8dbe8' }), 1),
  shapeSeries('polygon', 8, locParks, () => ({ fill: '#cbe8b6' }), 1),
  shapeSeries('polygon', 8, locWater, () => ({ fill: '#7dd0f0' }), 1),
  shapeSeries('polyline', 8, locRivers, () => ({ fill: null, stroke: '#7dd0f0', lineWidth: 1 }), 1),
  shapeSeries('polyline', 8, locStreets, () => ({ fill: null, stroke: '#ffffff', lineWidth: 1.3 }), 1),
  shapeSeries('polyline', 8, locHighways, () => ({ fill: null, stroke: '#fba361', lineWidth: 2 }), 2),
  { type: 'scatter', xAxisIndex: 8, yAxisIndex: 8, silent: true, z: 3,
    symbol: 'path://M0,2 Q6,4 12,2 Q13,8 12,11 Q10,15 6,17 Q2,15 0,11 Q-1,8 0,2 Z',
    symbolSize: [24, 19],
    itemStyle: { color: '#3f52a6', borderColor: '#fff', borderWidth: 1 },
    label: { show: true, position: 'inside', offset: [0, 1], color: '#fff', fontFamily: FONT, fontSize: 10, fontWeight: 'bold', formatter: p => p.value[2] },
    data: interstates },
  { type: 'scatter', xAxisIndex: 8, yAxisIndex: 8, silent: true, z: 3,
    symbol: 'rect', symbolSize: [22, 3], symbolOffset: [0, -7],
    itemStyle: { color: '#c8302e' },
    data: interstates },
  { type: 'scatter', xAxisIndex: 8, yAxisIndex: 8, silent: true, z: 3,
    symbol: 'path://M0,0 L12,0 Q14,6 12,10 Q9,14 6,15 Q3,14 0,10 Q-2,6 0,0 Z',
    symbolSize: [18, 17],
    itemStyle: { color: '#fff', borderColor: '#333', borderWidth: 1 },
    label: { show: true, position: 'inside', color: '#222', fontFamily: FONT, fontSize: 9, fontWeight: 'bold', formatter: () => '75' },
    data: [[860, 118]] },
  { type: 'scatter', xAxisIndex: 8, yAxisIndex: 8, silent: true, z: 6,
    symbol: 'circle', symbolSize: 10,
    itemStyle: { color: '#000', borderColor: '#ffff00', borderWidth: 1.5 },
    data: incidentPoints },

  pieSeries(genderNames, genderValues, ['#e2505c', '#b9dcf0', '#ffffff'], [875.5, 661], genderLabels),
  pieSeries(raceNames, raceValues, ['#aed2ec', '#f49d45', '#6890b4', '#f3b677', '#ffffff'], [1125.7, 661], raceLabels),
  pieSeries(ageNames, ageValues, ['#c4e4b8', '#8fcb86', '#74b26e', '#549c62', '#3f7a58', '#ffffff'], [1376.3, 661], ageLabels),
  pieSeries(injuryNames, injuryValues, ['#b63358', '#f67b6c', '#fedb78', '#e0e0e0'], [875.5, 904], injuryLabels),
  pieSeries(weaponNames, weaponValues, ['#444444', '#c98a6c', '#fdb2a4', '#ffffff'], [1126, 904], weaponLabels),
  pieSeries(officerNames, officerValues, ['#c4e1f3', '#7fa8cc', '#4a7098'], [1376.8, 904], officerLabels)
];

// ---------- panels, titles and the other fixed page parts ----------
const titleMain = 'Dallas Police Department - Officer Involved Shootings - Jan 2003 to Jan 2023 - ';
const titleLink = 'https://dallaspolice.net/ois/ois';
const titleFont = 'bold 24px';
const titleX = 213;
const titleLinkX = titleX + textWidth(titleMain, titleFont + ' ' + FONT);

const graphics = [
  plainText(titleMain, titleX, 25, '#ffff00', titleFont),
  ...underlined(titleLink, titleLinkX, 25, '#3f94c4', '#6a3fb5', titleFont),

  panel(5, 74, 366, 448),
  panel(379.5, 72, 1117.5, 209),
  panel(380, 315, 215.5, 207.5, '#aaa'),
  panel(604.5, 315, 141, 207.5, '#aaa'),
  panel(754.5, 315, 243, 207.5, '#aaa'),
  panel(1006, 315, 492, 160),
  panel(755, 557.5, 241.7, 208, '#aaa'),
  panel(1005, 557.5, 241.4, 208, '#aaa'),
  panel(1255, 557.5, 242.5, 208, '#aaa'),
  panel(755, 800.5, 241.7, 208, '#aaa'),
  panel(1005, 800.5, 241.4, 208, '#aaa'),
  panel(1255, 800.5, 242.5, 208, '#aaa'),

  { type: 'rect', z: -5, shape: { x: 5, y: 558, width: 365, height: 449.5 }, style: { fill: '#0b0b0b' } },
  { type: 'rect', z: -5, shape: { x: 380, y: 558, width: 366.3, height: 450 }, style: { fill: '#f1ebe3' } },

  ...titleBar('Annual Number of Subjects and Officers', 4, 46, 367, 23),
  ...titleBar('Monthly Number of Subjects', 379.5, 46, 1117.5, 23),
  ...titleBar('Total Subjects', 1506, 46, 153, 23),
  ...titleBar('Total Officers', 1506, 104, 153, 23),
  ...titleBar('Month', 380, 289, 215.5, 23),
  ...titleBar('Weekday', 604.5, 289, 141, 23),
  ...titleBar('Hour', 754.5, 289, 243, 23),
  ...titleBar('Weekday & Hour', 1006, 289, 491, 23),
  ...titleBar('Subject Weapon\nType', 1506, 288, 153, 42),
  ...titleBar('Zip Code', 4, 531, 366, 23),
  ...titleBar('Location', 379, 531, 367, 23),
  ...titleBar('Subject Gender', 755, 531, 241.7, 23),
  ...titleBar('Subject Race', 1005, 531, 241.4, 23),
  ...titleBar('Subject Age', 1255, 531, 242.5, 23),
  ...titleBar('Subject Injury', 755, 774, 241.7, 23),
  ...titleBar('Subject Weapon', 1005, 774, 241.4, 23),
  ...titleBar('Officers Involved', 1255, 774, 242.5, 23),

  // totals
  panel(1506, 72, 153, 23.7, '#aaa'),
  plainText('272', 1582.5, 84, '#000', 'bold 18px', 'center'),
  panel(1506, 130, 153, 23.7, '#aaa'),
  plainText('455', 1582.5, 142, '#000', 'bold 18px', 'center'),

  // black rules between the two annual charts and the gray baseline of the monthly one
  { type: 'rect', z: 40, shape: { x: 5, y: 281.5, width: 366, height: 2.2 }, style: { fill: '#000' } },
  { type: 'rect', z: 40, shape: { x: 379.5, y: 280, width: 1117.5, height: 1 }, style: { fill: '#aaa' } },
  { type: 'rect', z: 40, shape: { x: 1006, y: 315, width: 80.7, height: 20 }, style: { fill: 'none', stroke: '#8a8a8a', lineWidth: 1.5 } },

  // data source box
  { type: 'rect', z: 30, shape: { x: 1506.5, y: 866.5, width: 153, height: 105 }, style: { fill: '#000', stroke: '#fff', lineWidth: 1 } },
  plainText('Data Source:', 1507.5, 891, '#fff', 'bold 11px'),
  ...underlined('https://www.dallasopendata.cor', 1507.5, 905, '#2b80b4', '#5a22a8', '11px'),
  ...underlined('Safety/Dallas-Police-Officer-', 1507.5, 919.5, '#2b80b4', '#5a22a8', '11px'),
  ...underlined('Involved-Shootings/4gmt-', 1507.5, 934, '#2b80b4', '#5a22a8', '11px'),
  ...underlined('jyx2/data', 1507.5, 947.5, '#2b80b4', '#5a22a8', '11px'),

  // map attribution
  { type: 'rect', z: 40, shape: { x: 6, y: 993, width: 83, height: 14 }, style: { fill: '#23233a' } },
  plainText('© Mapbox  © OSM', 8, 1000.5, '#fff', '10.5px'),
  { type: 'rect', z: 40, shape: { x: 381, y: 993, width: 83, height: 14 }, style: { fill: 'rgba(255,255,255,0.75)' } },
  plainText('© Mapbox  © OSM', 383, 1000.5, '#667', '10.5px'),

  // map tool buttons of the location panel
  { type: 'rect', z: 40, shape: { x: 390, y: 567.5, width: 27, height: 27 }, style: { fill: '#ececec', stroke: '#c4c4c4', lineWidth: 1 } },
  { type: 'circle', z: 41, shape: { cx: 404.5, cy: 580, r: 4.5 }, style: { fill: 'none', stroke: '#666', lineWidth: 1.2 } },
  { type: 'line', z: 41, shape: { x1: 401, y1: 584, x2: 397, y2: 588 }, style: { stroke: '#666', lineWidth: 2 } },
  { type: 'rect', z: 40, shape: { x: 390, y: 609, width: 27, height: 101 }, style: { fill: '#ececec', stroke: '#c4c4c4', lineWidth: 1 } },
  plainText('+', 403, 622.5, '#666', 'bold 19px', 'center'),
  plainText('−', 403, 645, '#666', 'bold 19px', 'center'),
  { type: 'polyline', z: 41, shape: { points: [[396, 669], [403, 661], [410, 669], [408, 669], [408, 674], [398, 674], [398, 669], [396, 669]] }, style: { fill: 'none', stroke: '#666', lineWidth: 1.1 } },
  { type: 'line', z: 41, shape: { x1: 393, y1: 681.5, x2: 414, y2: 681.5 }, style: { stroke: '#d0d0d0', lineWidth: 1 } },
  { type: 'polygon', z: 41, shape: { points: [[400, 691], [407, 696], [400, 701]] }, style: { fill: '#666' } }
];

// weapon table rows come from the two arrays above
const TABLE_TOP = 334;
const ROW_HEIGHT = 20;
weaponTypes.forEach((name, i) => {
  const y = TABLE_TOP + i * ROW_HEIGHT;
  graphics.push({ type: 'rect', z: -5, shape: { x: 1506, y, width: 153, height: ROW_HEIGHT }, style: { fill: i % 2 ? '#e5e5e5' : '#fff' } });
  graphics.push(plainText(name, 1512, y + ROW_HEIGHT / 2, '#111', '14px'));
  graphics.push(plainText(String(weaponCounts[i]), 1628.5, y + ROW_HEIGHT / 2, '#333', '14px', 'center'));
});
graphics.push({ type: 'rect', z: 45, shape: { x: 1598, y: TABLE_TOP, width: 1, height: ROW_HEIGHT * weaponTypes.length }, style: { fill: '#aaa' } });
graphics.push({ type: 'rect', z: 45, shape: { x: 1506, y: TABLE_TOP - 1, width: 153, height: 1 }, style: { fill: '#aaa' } });

// ---------- chart ----------
const chart = echarts.init(document.getElementById('main'), null, { renderer: 'canvas', width: 1673, height: 1019 });
chart.setOption({
  animation: false,
  backgroundColor: '#000',
  textStyle: { fontFamily: FONT },
  grid: grids,
  xAxis: xAxes,
  yAxis: yAxes,
  visualMap: {
    type: 'piecewise', show: false, seriesIndex: 6, dimension: 2,
    pieces: [
      { value: 0, color: HEAT_COLORS[0] },
      { value: 1, color: HEAT_COLORS[1] },
      { value: 2, color: HEAT_COLORS[2] },
      { value: 3, color: HEAT_COLORS[3] },
      { value: 4, color: HEAT_COLORS[4] },
      { value: 5, color: HEAT_COLORS[5] },
      { value: 6, color: HEAT_COLORS[6] },
      { value: 7, color: HEAT_COLORS[7] }
    ]
  },
  graphic: { elements: graphics },
  series
});
</script>
</body>
</html>
